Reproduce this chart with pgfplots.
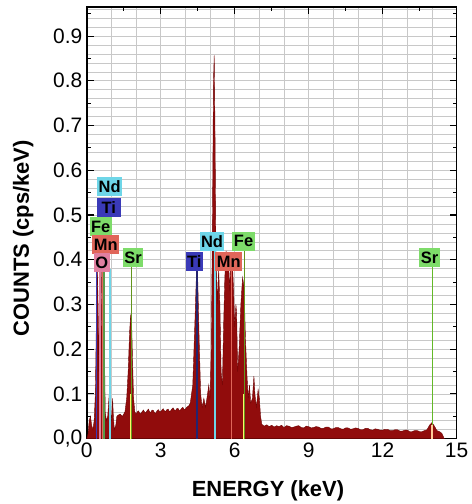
\documentclass[border=0pt]{standalone}
\usepackage{fontspec}
\setmainfont{Liberation Sans}
\usepackage{pgfplots}
\pgfplotsset{compat=1.18}
\pgfplotsset{layers/mylayers/.define layer set={axis background,axis grid,main,axis ticks,axis lines,axis tick labels,axis descriptions,axis foreground}{}}
\definecolor{specred}{RGB}{145,12,12}
\definecolor{specedge}{RGB}{110,5,5}
\definecolor{ndcyan}{RGB}{110,214,232}
\definecolor{tiblue}{RGB}{58,58,184}
\definecolor{fegreen}{RGB}{126,220,106}
\definecolor{mnsalmon}{RGB}{224,102,90}
\definecolor{opink}{RGB}{224,127,160}
\definecolor{srline}{RGB}{100,150,30}
\definecolor{srline2}{RGB}{100,185,40}
\definecolor{gridgray}{RGB}{200,200,200}
\begin{document}
\begin{tikzpicture}
\begin{axis}[
  name=ax,
  set layers=mylayers,
  scale only axis,
  width=371bp, height=433bp,
  xmin=0, xmax=15, ymin=0, ymax=0.965,
  xtick={0,3,6,9,12,15},
  xticklabels={0,3,6,9,12,15},
  ytick={0,0.1,0.2,0.3,0.4,0.5,0.6,0.7,0.8,0.9},
  yticklabels={{0,0},0.1,0.2,0.3,0.4,0.5,0.6,0.7,0.8,0.9},
  minor xtick={0,1,2,3,4,5,6,7,8,9,10,11,12,13,14,15},
  minor ytick={0.02,0.04,0.06,0.08,0.10,0.12,0.14,0.16,0.18,0.20,0.22,0.24,0.26,0.28,0.30,0.32,0.34,0.36,0.38,0.40,0.42,0.44,0.46,0.48,0.50,0.52,0.54,0.56,0.58,0.60,0.62,0.64,0.66,0.68,0.70,0.72,0.74,0.76,0.78,0.80,0.82,0.84,0.86,0.88,0.90,0.92,0.94,0.96},
  extra x ticks={1.5,4.5,7.5,10.5,13.5},
  extra x tick labels={},
  extra y ticks={0.05,0.15,0.25,0.35,0.45,0.55,0.65,0.75,0.85,0.95},
  extra y tick labels={},
  extra tick style={grid=none, major tick length=4bp},
  minor tick length=0pt,
  major tick length=7bp,
  tick align=inside,
  tick pos=both,
  grid=both,
  major grid style={gridgray, line width=0.6pt},
  minor grid style={gridgray, line width=0.6pt},
  every tick/.style={black, line width=1.1pt},
  axis line style={black, line width=1.6pt},
  tick label style={font=\fontsize{21bp}{24bp}\selectfont},
  xticklabel style={yshift=-1bp},
  yticklabel style={xshift=-1bp},
  xlabel={\textbf{ENERGY (keV)}},
  ylabel={\textbf{COUNTS (cps/keV)}},
  label style={font=\fontsize{22bp}{25bp}\selectfont},
  xlabel style={at={(axis description cs:0.49,-0.12)}, anchor=center},
  ylabel style={at={(axis description cs:-0.172,0.464)}, anchor=center},
  clip=true,
]
\addplot[fill=specred, draw=specedge, line width=0.4pt] coordinates {
(0.00,0) (0.05,0.01) (0.10,0.04) (0.15,0.05) (0.20,0.03) (0.25,0.02) (0.30,0.04)
(0.35,0.10) (0.40,0.30) (0.43,0.385) (0.46,0.30) (0.48,0.15) (0.50,0.25) (0.53,0.385)
(0.56,0.28) (0.58,0.20) (0.61,0.38) (0.64,0.30) (0.67,0.12) (0.70,0.32) (0.72,0.20)
(0.75,0.06) (0.80,0.04) (0.85,0.05) (0.90,0.09) (0.93,0.11) (0.96,0.06) (1.00,0.04)
(1.05,0.09) (1.08,0.05) (1.12,0.02) (1.18,0.03) (1.22,0.05) (1.26,0.052) (1.35,0.055)
(1.45,0.05) (1.55,0.06) (1.62,0.09) (1.68,0.15) (1.74,0.24) (1.78,0.275) (1.82,0.26)
(1.86,0.17) (1.90,0.09) (1.95,0.06) (2.00,0.055) (2.05,0.060) (2.10,0.062) (2.15,0.057)
(2.20,0.056) (2.25,0.061) (2.30,0.064) (2.35,0.059) (2.40,0.058) (2.45,0.063) (2.50,0.066)
(2.55,0.060) (2.60,0.059) (2.65,0.064) (2.70,0.063) (2.75,0.058) (2.80,0.057) (2.85,0.062)
(2.90,0.065) (2.95,0.061) (3.00,0.060) (3.05,0.064) (3.10,0.067) (3.15,0.062) (3.20,0.061)
(3.25,0.065) (3.30,0.066) (3.35,0.061) (3.40,0.062) (3.45,0.066) (3.50,0.069) (3.55,0.064)
(3.60,0.063) (3.65,0.067) (3.70,0.068) (3.75,0.063) (3.80,0.064) (3.85,0.068) (3.90,0.070)
(3.95,0.065) (4.00,0.066) (4.05,0.070) (4.10,0.072) (4.15,0.074) (4.20,0.08) (4.30,0.12)
(4.38,0.25) (4.45,0.37) (4.50,0.36) (4.56,0.22) (4.62,0.10) (4.68,0.07) (4.75,0.09)
(4.82,0.07) (4.90,0.10) (4.95,0.12) (5.00,0.09) (5.05,0.20) (5.10,0.50) (5.14,0.80)
(5.17,0.857) (5.20,0.70) (5.24,0.42) (5.30,0.30) (5.35,0.38) (5.40,0.30) (5.45,0.15)
(5.50,0.12) (5.55,0.25) (5.60,0.36) (5.65,0.42) (5.70,0.39) (5.75,0.40) (5.80,0.33)
(5.85,0.41) (5.90,0.40) (5.95,0.34) (6.00,0.25) (6.05,0.30) (6.08,0.28) (6.12,0.15)
(6.18,0.20) (6.25,0.30) (6.32,0.36) (6.38,0.34) (6.44,0.22) (6.50,0.14) (6.55,0.09)
(6.60,0.12) (6.65,0.08) (6.72,0.09) (6.78,0.14) (6.82,0.10) (6.88,0.07) (6.95,0.11)
(7.00,0.09) (7.05,0.05) (7.10,0.032) (7.20,0.028) (7.30,0.031) (7.40,0.027) (7.50,0.030)
(7.60,0.026) (7.70,0.029) (7.80,0.027) (7.90,0.030) (8.00,0.025) (8.10,0.029) (8.20,0.028)
(8.30,0.025) (8.40,0.026) (8.50,0.028) (8.60,0.029) (8.70,0.025) (8.80,0.024) (8.90,0.028)
(9.00,0.027) (9.10,0.024) (9.20,0.025) (9.30,0.027) (9.40,0.026) (9.50,0.023) (9.60,0.023)
(9.70,0.026) (9.80,0.026) (9.90,0.022) (10.00,0.022) (10.10,0.025) (10.20,0.025) (10.30,0.022)
(10.40,0.021) (10.50,0.024) (10.60,0.024) (10.70,0.021) (10.80,0.022) (10.90,0.024)
(11.00,0.023) (11.10,0.020) (11.20,0.020) (11.30,0.023) (11.40,0.023) (11.50,0.020)
(11.60,0.019) (11.70,0.022) (11.80,0.021) (11.90,0.019) (12.00,0.019) (12.10,0.021)
(12.20,0.021) (12.30,0.018) (12.40,0.018) (12.50,0.020) (12.60,0.020) (12.70,0.017)
(12.80,0.017) (12.90,0.019) (13.00,0.019) (13.10,0.016) (13.20,0.016) (13.30,0.018)
(13.40,0.018) (13.50,0.016) (13.60,0.016) (13.70,0.018) (13.80,0.020) (13.90,0.030)
(14.00,0.036) (14.10,0.028) (14.20,0.018) (14.30,0.016) (14.40,0.012) (14.45,0.006) (14.50,0)
} \closedcycle;
% element marker lines
\addplot[tiblue, line width=1.5pt] coordinates {(0.39,0) (0.39,0.38)};
\addplot[opink, line width=1.5pt] coordinates {(0.53,0) (0.53,0.38)};
\addplot[mnsalmon, line width=1.5pt] coordinates {(0.64,0) (0.64,0.38)};
\addplot[fegreen!70!black, line width=1.5pt] coordinates {(0.71,0) (0.71,0.38)};
\addplot[ndcyan, line width=1.8pt] coordinates {(0.93,0) (0.93,0.38)};
\addplot[srline, line width=1.5pt] coordinates {(1.81,0) (1.81,0.385)};
\addplot[yellow!60, line width=1.2pt] coordinates {(1.78,0) (1.78,0.10)};
\addplot[tiblue!60!black, line width=1.5pt] coordinates {(4.47,0) (4.47,0.38)};
\addplot[ndcyan, line width=1.5pt] coordinates {(5.20,0) (5.20,0.42)};
\addplot[mnsalmon, line width=1.5pt] coordinates {(5.88,0) (5.88,0.38)};
\addplot[srline, line width=1.5pt] coordinates {(6.40,0) (6.40,0.42)};
\addplot[yellow!60, line width=1.2pt] coordinates {(6.36,0) (6.36,0.10)};
\addplot[srline2, line width=1.8pt] coordinates {(14.02,0) (14.02,0.385)};
\addplot[orange!40, line width=1.2pt] coordinates {(14.00,0) (14.00,0.03)};
% labels
\tikzset{elbox/.style={inner sep=1.5bp, font=\fontsize{16.5bp}{18bp}\selectfont\bfseries, text=black, minimum height=19bp}}
\node[elbox, fill=ndcyan] at (axis cs:0.93,0.563) {Nd};
\node[elbox, fill=tiblue, minimum width=24bp] at (axis cs:0.89,0.517) {Ti};
\node[elbox, fill=fegreen] at (axis cs:0.57,0.474) {Fe};
\node[elbox, fill=mnsalmon] at (axis cs:0.77,0.434) {Mn};
\node[elbox, fill=opink] at (axis cs:0.61,0.394) {O};
\node[elbox, fill=fegreen] at (axis cs:1.88,0.405) {Sr};
\node[elbox, fill=tiblue] at (axis cs:4.36,0.396) {Ti};
\node[elbox, fill=ndcyan] at (axis cs:5.08,0.441) {Nd};
\node[elbox, fill=mnsalmon] at (axis cs:5.76,0.396) {Mn};
\node[elbox, fill=fegreen] at (axis cs:6.36,0.441) {Fe};
\node[elbox, fill=fegreen] at (axis cs:13.9,0.405) {Sr};
\end{axis}
\path[use as bounding box] ([shift={(-87bp,-64bp)}]ax.south west) rectangle ([shift={(10bp,7bp)}]ax.north east);
\end{tikzpicture}
\end{document}
